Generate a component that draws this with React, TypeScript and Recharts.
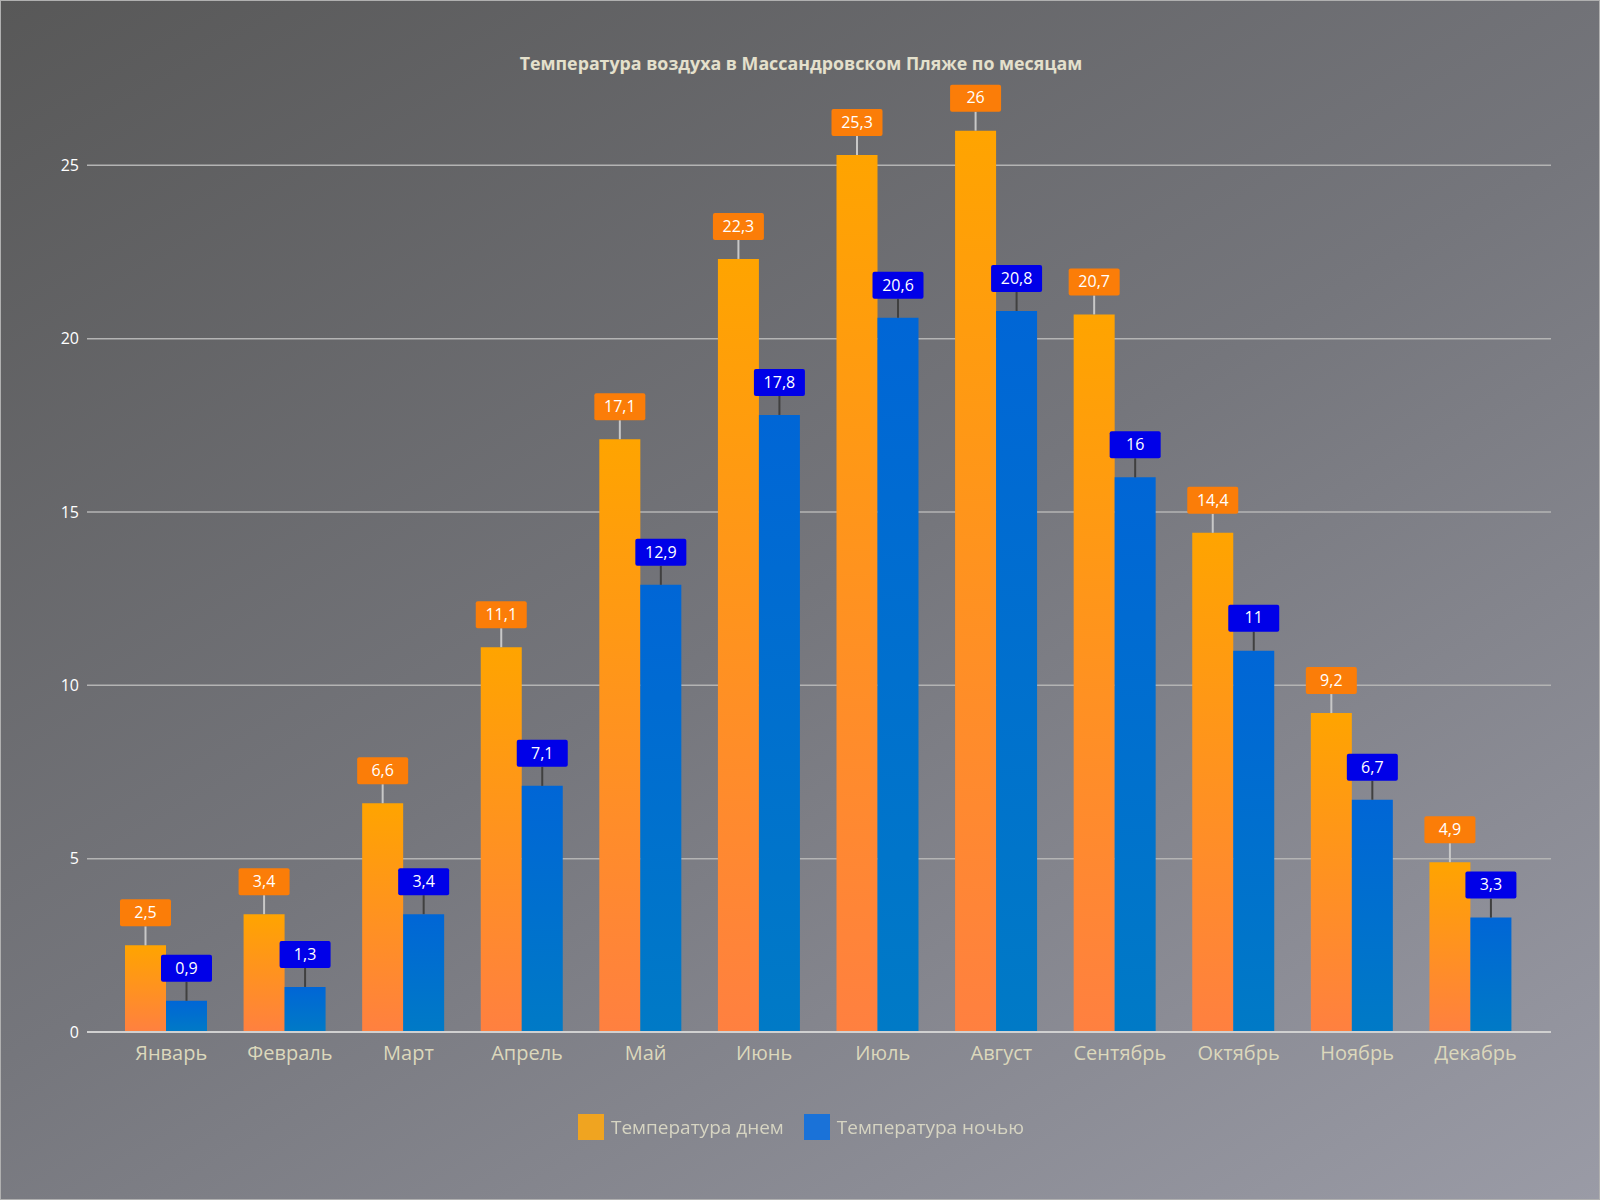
import React from "react";
import { BarChart, Bar, XAxis, YAxis, CartesianGrid, LabelList } from "recharts";

const months = [
  "Январь", "Февраль", "Март", "Апрель", "Май", "Июнь",
  "Июль", "Август", "Сентябрь", "Октябрь", "Ноябрь", "Декабрь",
];
const dayTemps = [2.5, 3.4, 6.6, 11.1, 17.1, 22.3, 25.3, 26, 20.7, 14.4, 9.2, 4.9];
const nightTemps = [0.9, 1.3, 3.4, 7.1, 12.9, 17.8, 20.6, 20.8, 16, 11, 6.7, 3.3];
const yTicks = [0, 5, 10, 15, 20, 25];

const data = months.map((m, i) => ({ month: m, day: dayTemps[i], night: nightTemps[i] }));

const FONT = "'Open Sans', 'Noto Sans', sans-serif";

const fmt = (v: number) => String(v).replace(".", ",");

function makeLabel(boxColor: string, lineColor: string) {
  return (props: any) => {
    const { x, y, width, value } = props;
    const cx = x + width / 2;
    const gap = 19;
    const bw = 51;
    const bh = 27;
    return (
      <g>
        <line x1={cx} y1={y} x2={cx} y2={y - gap} stroke={lineColor} strokeWidth={2} />
        <rect x={cx - bw / 2} y={y - gap - bh} width={bw} height={bh} rx={2} fill={boxColor} />
        <text
          x={cx}
          y={y - gap - bh / 2 + 1}
          textAnchor="middle"
          dominantBaseline="middle"
          fill="#ffffff"
          fontSize={16}
          fontFamily={FONT}
        >
          {fmt(value)}
        </text>
      </g>
    );
  };
}

function LegendBox() {
  const items = [
    { label: "Температура днем", color: "#f0a420" },
    { label: "Температура ночью", color: "#1a72d8" },
  ];
  return (
    <div
      style={{
        position: "absolute",
        top: 1113,
        left: 0,
        width: 1600,
        display: "flex",
        justifyContent: "center",
        gap: 20,
        fontFamily: FONT,
      }}
    >
      {items.map((it) => (
        <div key={it.label} style={{ display: "flex", alignItems: "center", gap: 7 }}>
          <div style={{ width: 26, height: 26, background: it.color }} />
          <span style={{ color: "#d6d4c2", fontSize: 19 }}>{it.label}</span>
        </div>
      ))}
    </div>
  );
}

export default function App() {
  return (
    <div
      style={{
        position: "fixed",
        left: 0,
        top: 0,
        width: 1600,
        height: 1200,
        boxSizing: "border-box",
        border: "1px solid #b0b0b0",
        background: "linear-gradient(150deg, #585858 0%, #75767c 50%, #9a9ba6 100%)",
        fontFamily: FONT,
      }}
    >
      <div
        style={{
          position: "absolute",
          top: 50,
          left: 0,
          width: 1600,
          textAlign: "center",
          color: "#e4e0cc",
          fontWeight: 700,
          fontSize: 17.8,
        }}
      >
        Температура воздуха в Массандровском Пляже по месяцам
      </div>
      <div style={{ position: "absolute", left: -1, top: -1 }}>
        <BarChart
          width={1600}
          height={1200}
          data={data}
          margin={{ top: 96, right: 49, bottom: 138, left: 0 }}
          barGap={0}
        >
          <defs>
            <linearGradient id="gDay" x1="0" y1="0" x2="0" y2="1">
              <stop offset="0%" stopColor="#ffa400" />
              <stop offset="100%" stopColor="#ff8040" />
            </linearGradient>
            <linearGradient id="gNight" x1="0" y1="0" x2="0" y2="1">
              <stop offset="0%" stopColor="#0066d6" />
              <stop offset="100%" stopColor="#007ac6" />
            </linearGradient>
          </defs>
          <CartesianGrid vertical={false} horizontalValues={yTicks} stroke="#b4b4b4" strokeWidth={1.5} />
          <XAxis
            dataKey="month"
            padding={{ left: 20, right: 21 }}
            axisLine={{ stroke: "#d0d0d0", strokeWidth: 2 }}
            tickLine={false}
            tick={{ fill: "#dcd8bc", fontSize: 20, fontFamily: FONT, dx: 5 }}
            tickMargin={8}
            interval={0}
          />
          <YAxis
            width={87}
            domain={[0, 27]}
            ticks={yTicks}
            axisLine={false}
            tickLine={false}
            tick={{ fill: "#ffffff", fontSize: 16, fontFamily: FONT }}
          />
          <Bar dataKey="day" name="Температура днем" fill="url(#gDay)" barSize={41} isAnimationActive={false}>
            <LabelList dataKey="day" content={makeLabel("#fb7d08", "#c8c8c8")} />
          </Bar>
          <Bar dataKey="night" name="Температура ночью" fill="url(#gNight)" barSize={41} isAnimationActive={false}>
            <LabelList dataKey="night" content={makeLabel("#0000e8", "#404040")} />
          </Bar>
        </BarChart>
      </div>
      <LegendBox />
    </div>
  );
}
